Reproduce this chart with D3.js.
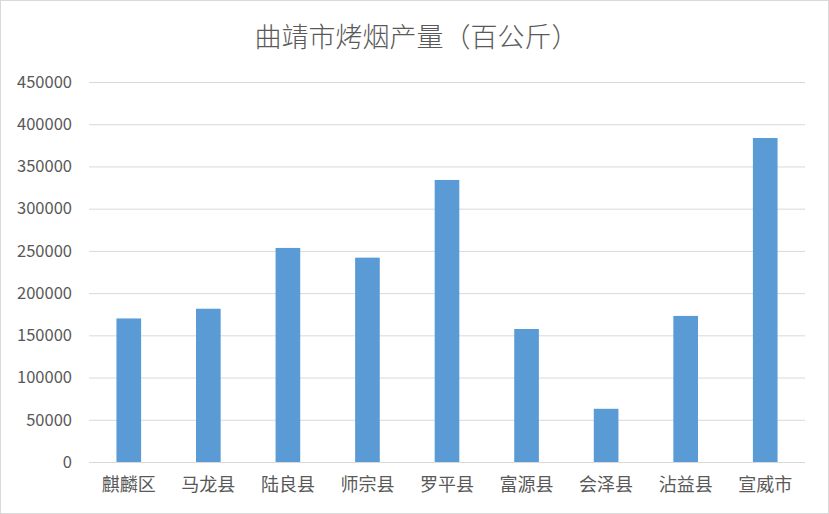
<!DOCTYPE html>
<html>
<head>
<meta charset="utf-8">
<script src="https://cdn.jsdelivr.net/npm/d3@7"></script>
<style>
  html, body { margin: 0; padding: 0; background: #fff; }
  svg { display: block; }
  text { font-family: "Noto Sans CJK SC", "Noto Sans", sans-serif; fill: #595959; }
</style>
</head>
<body>
<div id="root"></div>
<script>
const width = 829;
const height = 514;
const margin = ({top: 82, right: 24, bottom: 52, left: 89});

// 曲靖市各县区烤烟产量（百公斤）
const counties = ['麒麟区', '马龙县', '陆良县', '师宗县', '罗平县', '富源县', '会泽县', '沾益县', '宣威市'];
const output = [170000, 181500, 253500, 242000, 334000, 157500, 63000, 173000, 383700];
const yTicks = [0, 50000, 100000, 150000, 200000, 250000, 300000, 350000, 400000, 450000];
const title = '曲靖市烤烟产量（百公斤）';

const svg = d3.select('#root').append('svg')
  .attr('width', width).attr('height', height)
  .attr('viewBox', [0, 0, width, height]);

// chart area border
svg.append('rect')
  .attr('x', 0.5).attr('y', 0.5)
  .attr('width', width - 1).attr('height', height - 1)
  .attr('fill', '#fff').attr('stroke', '#d9d9d9');

const x = d3.scaleBand()
  .domain(counties)
  .range([margin.left, width - margin.right])
  .paddingInner(0.69)
  .paddingOuter(0.345);

const y = d3.scaleLinear()
  .domain([0, 450000])
  .range([height - margin.bottom, margin.top]);

// gridlines + y labels
const yAxis = d3.axisLeft(y)
  .tickValues(yTicks)
  .tickSize(-(width - margin.left - margin.right))
  .tickPadding(17)
  .tickFormat(d3.format('d'));

const gy = svg.append('g')
  .attr('transform', `translate(${margin.left},0)`)
  .call(yAxis);
gy.select('.domain').remove();
gy.selectAll('.tick line').attr('stroke', '#d9d9d9').attr('stroke-width', 1);
gy.selectAll('.tick text').attr('font-size', 16.5).attr('fill', '#595959');

// bars
svg.append('g')
  .selectAll('rect')
  .data(counties)
  .join('rect')
    .attr('x', d => x(d))
    .attr('width', x.bandwidth())
    .attr('y', (d, i) => y(output[i]))
    .attr('height', (d, i) => y(0) - y(output[i]))
    .attr('fill', '#5b9bd5');

// x axis labels
const xAxis = d3.axisBottom(x).tickSize(0).tickPadding(16);
const gx = svg.append('g')
  .attr('transform', `translate(0,${height - margin.bottom})`)
  .call(xAxis);
gx.select('.domain').remove();
gx.selectAll('.tick text').attr('font-size', 18).attr('fill', '#595959');

// title
svg.append('text')
  .attr('x', width / 2 + 2)
  .attr('y', 47)
  .attr('text-anchor', 'middle')
  .attr('font-size', 27)
  .attr('font-weight', 300)
  .text(title);
</script>
</body>
</html>
